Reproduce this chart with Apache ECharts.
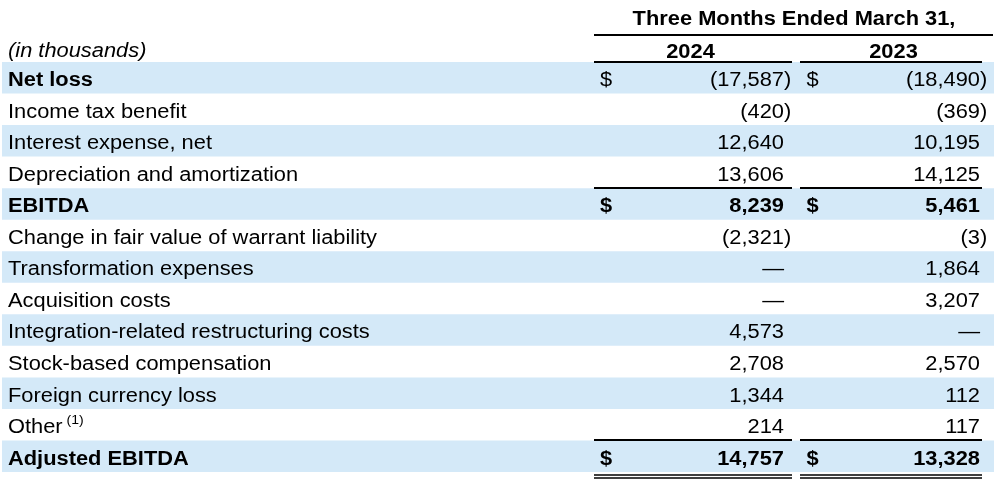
<!DOCTYPE html>
<html>
<head>
<meta charset="utf-8">
<script src="https://cdn.jsdelivr.net/npm/echarts@6/dist/echarts.min.js"></script>
<style>html,body{margin:0;padding:0;background:#fff}#c{width:994px;height:484px}</style>
</head>
<body>
<div id="c"></div>
<script>
// ---- data ----
const periodTitle = 'Three Months Ended March 31,';
const unitNote = '(in thousands)';
const years = ['2024', '2023'];
const categories = [
  'Net loss',
  'Income tax benefit',
  'Interest expense, net',
  'Depreciation and amortization',
  'EBITDA',
  'Change in fair value of warrant liability',
  'Transformation expenses',
  'Acquisition costs',
  'Integration-related restructuring costs',
  'Stock-based compensation',
  'Foreign currency loss',
  'Other',
  'Adjusted EBITDA'
];
const values2024 = [-17587, -420, 12640, 13606, 8239, -2321, null, null, 4573, 2708, 1344, 214, 14757];
const values2023 = [-18490, -369, 10195, 14125, 5461, -3, 1864, 3207, null, 2570, 112, 117, 13328];
const footnotes = {'Other': '(1)'};

// ---- presentation ----
const boldLabels = new Set(['Net loss', 'EBITDA', 'Adjusted EBITDA']);
const boldValues = new Set(['EBITDA', 'Adjusted EBITDA']);
const dollarRows = new Set(['Net loss', 'EBITDA', 'Adjusted EBITDA']);
const lineAbove = new Set(['Net loss', 'EBITDA', 'Adjusted EBITDA']);
const doubleBelow = new Set(['Adjusted EBITDA']);

const FONT = '"Liberation Sans", Arial, Helvetica, sans-serif';
const FS = 19.5, SX = 1.12;
const STRIPE = '#D4E9F8';
const COLS = [
  {dollar: 600, right: 784, lineL: 594, lineR: 792},
  {dollar: 806.5, right: 980, lineL: 800, lineR: 982}
];

function fmt(v) {
  if (v === null || v === undefined) return {main: '\u2014', close: ''};
  const s = Math.abs(v).toLocaleString('en-US');
  return v < 0 ? {main: '(' + s, close: ')'} : {main: s, close: ''};
}
function font(bold, italic, size) {
  return (italic ? 'italic ' : '') + (bold ? 'bold ' : '') + (size || FS) + 'px ' + FONT;
}
function txt(x, y, text, align, bold, italic, size, sx) {
  return {
    type: 'text', x: x, y: y, scaleX: sx || SX, silent: true,
    style: {text: text, fill: '#000', font: font(bold, italic, size), textAlign: align, textVerticalAlign: 'middle'}
  };
}
function hline(x1, x2, y, w) {
  return {type: 'line', silent: true, shape: {x1: x1, y1: y, x2: x2, y2: y}, style: {stroke: '#000', lineWidth: w || 2}};
}

const chart = echarts.init(document.getElementById('c'), null, {renderer: 'canvas'});

function renderItem(params, api) {
  const i = api.value(1);
  const label = categories[i];
  const c = api.coord([0, i]);
  const h = api.size([0, 1])[1];
  const cy = c[1];
  const top = cy - h / 2, bot = cy + h / 2;
  const px = (x) => api.coord([x, i])[0];
  const ty = cy + 3;
  const kids = [];
  if (i % 2 === 0) {
    kids.push({type: 'rect', silent: true, shape: {x: px(2), y: top, width: px(994) - px(2), height: h}, style: {fill: STRIPE}});
  }
  kids.push(txt(px(8), ty, label, 'left', boldLabels.has(label)));
  if (footnotes[label]) {
    kids.push(txt(px(66.5), ty - 7, footnotes[label], 'left', false, false, 13, 1.08));
  }
  const vb = boldValues.has(label);
  [values2024, values2023].forEach((arr, k) => {
    const col = COLS[k];
    if (dollarRows.has(label)) kids.push(txt(px(col.dollar), ty, '$', 'left', vb));
    const f = fmt(arr[i]);
    kids.push(txt(px(col.right), ty, f.main, 'right', vb));
    if (f.close) kids.push(txt(px(col.right), ty, f.close, 'left', vb));
    if (lineAbove.has(label)) kids.push(hline(px(col.lineL), px(col.lineR), Math.round(top), 2));
    if (doubleBelow.has(label)) {
      kids.push(hline(px(col.lineL), px(col.lineR), Math.round(bot) + 3, 1.5));
      kids.push(hline(px(col.lineL), px(col.lineR), Math.round(bot) + 6, 1.5));
    }
  });
  return {type: 'group', children: kids};
}

const option = {
  animation: false,
  grid: {left: 0, right: 0, top: 62, bottom: 12},
  xAxis: {type: 'value', min: 0, max: 994, show: false},
  yAxis: {type: 'category', data: categories, inverse: true, show: false},
  graphic: [
    {type: 'text', x: 794, y: 19.5, scaleX: SX, silent: true,
      style: {text: periodTitle, font: font(true), fill: '#000', textAlign: 'center', textVerticalAlign: 'middle'}},
    {type: 'line', silent: true, shape: {x1: 594, y1: 35, x2: 993, y2: 35}, style: {stroke: '#000', lineWidth: 2}},
    {type: 'text', x: 690.5, y: 52.5, scaleX: SX, silent: true,
      style: {text: years[0], font: font(true), fill: '#000', textAlign: 'center', textVerticalAlign: 'middle'}},
    {type: 'text', x: 893.5, y: 52.5, scaleX: SX, silent: true,
      style: {text: years[1], font: font(true), fill: '#000', textAlign: 'center', textVerticalAlign: 'middle'}},
    {type: 'text', x: 8, y: 51.5, scaleX: SX, silent: true,
      style: {text: unitNote, font: font(false, true), fill: '#000', textAlign: 'left', textVerticalAlign: 'middle'}}
  ],
  series: [{
    type: 'custom',
    renderItem: renderItem,
    encode: {x: 0, y: 1},
    data: categories.map((c, i) => [0, i]),
    silent: true
  }]
};
chart.setOption(option);
</script>
</body>
</html>
